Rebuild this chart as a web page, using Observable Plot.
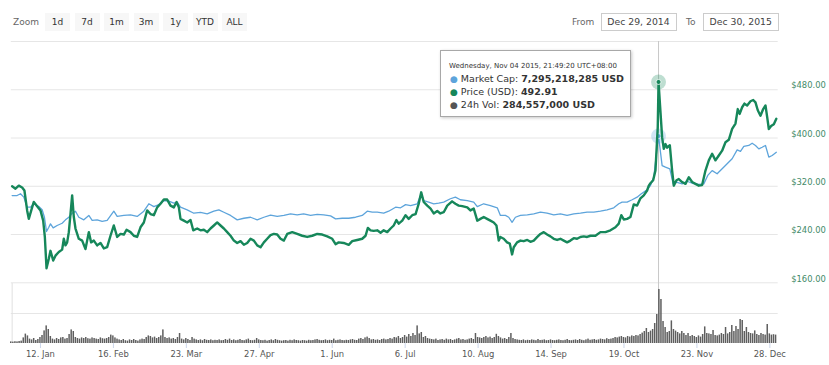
<!DOCTYPE html>
<html><head><meta charset="utf-8">
<script src="https://cdn.jsdelivr.net/npm/d3@7"></script>
<script src="https://cdn.jsdelivr.net/npm/@observablehq/plot@0.6"></script>
<style>
html,body{margin:0;padding:0;background:#fff;}
#wrap{position:relative;width:829px;height:365px;overflow:hidden;font-family:"DejaVu Sans",sans-serif;}
.layer{position:absolute;left:0;top:0;}
.layer svg{display:block;overflow:visible;}
.lbl{position:absolute;top:13px;font-size:9px;color:#666;line-height:18px;}
.btn{position:absolute;top:12.5px;width:25px;height:18px;line-height:18px;background:#f7f7f7;color:#333;font-size:9px;text-align:center;}
.box{position:absolute;top:13px;height:18px;line-height:16px;border:1px solid #ccc;box-sizing:border-box;font-size:9.3px;color:#444;text-align:center;background:#fff;}
#tip{position:absolute;left:440px;top:50px;width:191px;height:67px;box-sizing:border-box;border:1px solid #a8a8a8;background:rgba(255,255,255,0.96);box-shadow:1px 1px 3px rgba(0,0,0,0.22);color:#333;}
#tip .hd{position:absolute;left:8px;top:10px;font-size:7px;line-height:10px;white-space:nowrap;}
#tip .row{position:absolute;left:9px;font-size:9.5px;line-height:12px;white-space:nowrap;}
#tip .row span.b{font-size:9px;margin-right:3px;}
</style></head><body>
<div id="wrap"></div>
<script>
const startDate = Date.UTC(2014, 11, 29);
const DAY = 864e5;

// price (USD) : [day offset from Dec 29 2014, value]
const priceUSD = [[0.4,320],[2.0,316],[3.6,321],[5.2,318],[6.3,313],[7.6,280],[8.4,266],[10.0,285],[10.8,294],[12.4,287],[14.0,280],[15.3,263],[16.1,236],[16.9,184],[18.0,200],[18.8,213],[20.1,197],[21.2,205],[22.8,211],[24.4,215],[25.2,233],[26.0,222],[26.8,227],[27.6,244],[28.4,274],[29.2,305],[30.0,269],[30.8,250],[32.4,233],[34.0,230],[35.6,216],[37.2,244],[38.3,227],[39.6,230],[41.2,222],[42.8,226],[44.4,217],[46.0,219],[47.6,238],[49.2,255],[50.8,236],[52.4,241],[54.0,240],[55.3,248],[57.2,244],[58.8,238],[60.4,236],[62.0,252],[63.6,260],[65.2,280],[66.8,274],[68.4,272],[70.0,285],[71.6,291],[73.2,298],[74.8,298],[76.4,288],[78.0,285],[79.3,294],[80.4,285],[81.2,266],[82.8,263],[84.4,260],[86.0,264],[87.3,247],[89.2,250],[90.8,247],[92.4,248],[94.0,244],[95.6,250],[97.2,255],[98.8,260],[100.4,255],[102.0,250],[103.6,244],[105.2,238],[106.8,230],[108.4,226],[110.0,229],[111.6,223],[113.2,226],[114.8,233],[116.4,230],[118.0,222],[119.6,219],[121.2,227],[122.8,233],[124.4,239],[126.0,241],[127.6,240],[129.2,233],[130.8,230],[132.4,241],[134.8,244],[137.2,241],[139.6,238],[142.0,236],[144.4,238],[146.8,241],[149.2,240],[151.6,237],[154.0,233],[155.6,224],[157.1,227],[159.5,226],[161.9,223],[163.6,229],[166.0,231],[168.4,233],[170.0,238],[171.1,251],[172.4,247],[173.9,246],[175.6,247],[177.2,243],[178.7,247],[180.4,244],[182.0,250],[183.5,255],[184.8,264],[185.9,258],[187.6,263],[189.2,272],[190.7,266],[192.4,272],[194.0,274],[195.5,291],[196.7,310],[197.9,294],[199.6,288],[201.2,283],[202.7,275],[204.4,279],[205.9,275],[207.5,277],[209.2,288],[211.5,295],[213.1,291],[214.7,288],[216.4,287],[218.8,285],[220.3,280],[221.9,283],[223.6,263],[225.1,266],[226.7,269],[228.3,266],[229.9,263],[231.5,260],[232.8,255],[233.9,230],[234.7,236],[236.3,233],[237.9,227],[239.2,225],[240.3,207],[241.1,219],[242.7,227],[244.3,230],[245.9,229],[247.6,231],[249.1,228],[250.7,230],[252.4,236],[253.9,241],[255.5,244],[257.1,240],[258.7,237],[260.3,233],[261.9,231],[263.5,233],[265.1,230],[266.7,227],[268.3,230],[269.9,234],[271.5,233],[273.1,236],[274.7,237],[276.3,236],[277.9,238],[280.3,238],[282.7,244],[285.1,244],[287.5,247],[289.9,252],[291.5,258],[292.7,272],[293.9,265],[295.5,266],[297.1,269],[298.7,290],[300.3,288],[301.9,300],[303.5,305],[305.1,313],[305.9,321],[306.7,325],[308.0,330],[309.1,346],[310.2,418],[310.58,492.91],[312.3,401],[313.1,382],[313.9,390],[314.7,384],[316.0,388],[317.1,346],[317.9,321],[319.2,330],[320.3,332],[321.9,327],[323.5,324],[325.1,335],[326.7,327],[328.3,324],[329.9,321],[331.5,322],[333.1,346],[334.7,363],[336.3,374],[337.9,363],[339.5,371],[341.1,379],[342.7,393],[344.3,397],[345.9,415],[347.5,424],[348.6,448],[349.5,440],[350.7,451],[351.8,457],[353.1,454],[354.7,461],[356.0,463],[357.1,459],[358.2,446],[359.5,437],[360.8,448],[361.9,454],[362.7,435],[363.5,415],[364.6,420],[365.9,423],[367.1,432]];

// market cap (billion USD) : [day offset, value]
const marketCapB = [[0.4,4.34],[2.8,4.34],[4.4,4.43],[6.0,4.26],[7.6,3.76],[9.2,3.76],[10.8,3.93],[13.2,3.79],[14.8,3.63],[15.9,3.26],[16.9,2.55],[18.0,2.76],[18.8,2.93],[20.1,2.73],[22.0,2.85],[24.4,2.96],[26.0,3.13],[27.6,3.26],[29.2,3.46],[30.8,3.56],[32.4,3.26],[34.8,3.13],[37.2,3.35],[38.8,3.10],[41.2,3.13],[43.6,3.05],[46.0,3.10],[49.2,3.56],[50.8,3.30],[54.0,3.35],[57.2,3.38],[60.4,3.30],[63.6,3.56],[66.0,3.93],[68.4,3.79],[70.8,3.89],[73.2,4.09],[75.6,4.06],[78.0,3.96],[79.6,4.01],[81.2,3.76],[84.4,3.63],[87.6,3.46],[90.8,3.50],[94.0,3.43],[97.2,3.56],[99.6,3.63],[102.0,3.51],[105.2,3.35],[108.4,3.13],[111.6,3.21],[114.8,3.26],[118.0,3.13],[121.2,3.26],[124.4,3.37],[127.6,3.30],[130.8,3.35],[134.0,3.43],[137.2,3.38],[140.3,3.43],[143.6,3.35],[146.8,3.40],[149.9,3.38],[153.2,3.33],[155.6,3.18],[158.8,3.21],[161.9,3.21],[165.2,3.26],[168.4,3.35],[170.8,3.56],[173.2,3.51],[175.6,3.51],[178.7,3.46],[181.1,3.56],[184.4,3.76],[186.8,3.73],[189.2,3.89],[191.6,3.84],[194.8,3.93],[196.7,4.43],[197.9,4.09],[200.3,4.01],[202.7,3.93],[205.1,3.96],[207.5,4.01],[210.7,4.18],[213.1,4.26],[215.5,4.13],[218.8,4.09],[221.9,4.01],[223.6,3.79],[226.7,3.93],[229.9,3.84],[233.2,3.73],[234.7,3.35],[237.1,3.35],[238.7,3.26],[240.3,3.01],[241.9,3.26],[244.3,3.35],[247.6,3.38],[250.7,3.43],[253.9,3.51],[257.1,3.46],[260.3,3.38],[263.5,3.43],[266.7,3.35],[269.9,3.43],[273.1,3.46],[276.3,3.51],[279.5,3.51],[282.7,3.56],[285.9,3.63],[289.1,3.73],[291.5,3.93],[293.1,4.01],[295.5,4.01],[297.9,4.13],[300.3,4.26],[302.0,4.40],[305.1,4.63],[306.7,4.84],[308.3,5.25],[310.2,6.99],[310.58,7.295],[312.3,5.83],[313.9,5.75],[316.0,5.67],[317.6,4.92],[319.5,5.00],[321.9,4.92],[324.3,5.05],[326.7,4.95],[329.9,4.89],[332.3,4.92],[334.2,5.34],[336.3,5.58],[338.7,5.42],[341.1,5.67],[343.5,5.92],[345.9,6.17],[348.3,6.61],[349.9,6.54],[351.5,6.78],[353.9,6.83],[355.5,6.94],[357.1,6.83],[358.7,6.66],[360.3,6.74],[361.9,6.83],[363.5,6.25],[365.1,6.33],[367.1,6.49]];

// 24h volume (million USD), one value per day from Dec 29 2014
const volumeM = [
 8,7,9,8,10,12,28,47,38,22,
 18,25,15,20,30,40,63,88,70,35,
 22,18,25,20,28,30,22,25,45,68,
 60,30,25,22,28,25,30,24,22,28,
 25,22,20,28,24,22,25,30,42,38,
 28,22,18,15,20,14,12,18,15,20,
 15,12,18,22,20,30,38,35,28,32,
 25,30,38,68,30,25,28,22,25,20,
 30,50,22,18,25,20,15,30,22,18,
 15,18,14,20,16,15,18,14,16,15,
 18,14,15,20,16,22,15,18,14,16,
 20,15,14,18,22,15,14,16,25,18,
 15,14,16,12,15,18,14,20,16,14,
 12,14,15,12,16,14,18,15,14,12,
 15,14,12,16,14,15,18,20,16,14,
 15,18,14,16,15,22,14,16,18,15,
 14,16,15,18,20,16,15,22,25,20,
 28,32,25,18,20,16,18,15,20,22,
 18,20,25,22,30,28,35,25,30,40,
 32,45,35,50,40,88,48,55,30,35,
 25,22,20,18,22,15,18,20,16,22,
 18,20,15,18,22,25,18,20,16,18,
 22,25,20,50,30,28,25,30,35,28,
 32,25,30,46,35,28,22,25,20,30,
 50,25,20,18,16,15,18,14,16,15,
 18,16,14,20,15,16,18,14,15,18,
 15,14,16,18,15,14,16,20,15,14,
 16,18,15,20,16,14,18,22,16,18,
 20,16,18,22,20,18,24,20,22,25,
 30,28,32,35,30,28,35,32,38,35,
 40,38,45,52,60,75,55,62,70,100,
 145,270,220,110,80,55,60,113,70,62,
 55,48,60,50,40,50,35,40,35,30,
 38,32,45,83,50,48,45,65,40,38,
 42,50,45,80,48,55,90,60,85,70,
 120,115,60,80,55,50,48,63,45,40,
 50,45,42,95,48,42,44,42];

const priceTicks = [160, 240, 320, 400, 480];
const priceGrid = [160, 240, 320, 400, 480, 560];
const volumeGrid = [150];
const volumeTop = 300;
const xTicks = ["2015-01-12","2015-02-16","2015-03-23","2015-04-27","2015-06-01","2015-07-06","2015-08-10","2015-09-14","2015-10-19","2015-11-23","2015-12-28"];
const zoomButtons = ["1d","7d","1m","3m","1y","YTD","ALL"];
const rangeFrom = "Dec 29, 2014";
const rangeTo = "Dec 30, 2015";
const hoverDay = 310.58;
const tip = {
  header: "Wednesday, Nov 04 2015, 21:49:20 UTC+08:00",
  marketCap: "7,295,218,285 USD",
  price: "492.91",
  volume: "284,557,000 USD"
};

const GREEN = "#16875a", BLUE = "#5da4db", VOLC = "#5e5e5e";
const toDate = d => new Date(startDate + d * DAY);
const price = priceUSD.map(([d, v]) => ({date: toDate(d), v}));
const mcap = marketCapB.map(([d, v]) => ({date: toDate(d), v}));
const vol = volumeM.map((v, i) => ({x1: toDate(i - 0.5), x2: toDate(i + 0.5), v}));
const hoverDate = toDate(hoverDay);

const W = 829, H = 365;
const common = {
  width: W, height: H,
  marginLeft: 10.8, marginRight: 51.3, marginTop: 0, marginBottom: 0,
  x: {type: "utc", domain: [toDate(0), toDate(368)], axis: null},
  style: {background: "transparent", fontFamily: "DejaVu Sans, sans-serif", overflow: "visible"}
};

const wrap = document.getElementById("wrap");
function layer(svg) {
  const d = document.createElement("div");
  d.className = "layer";
  d.appendChild(svg);
  wrap.appendChild(d);
}

// Layer A: price grid + right axis
layer(Plot.plot({
  ...common,
  y: {domain: [160, 560], range: [282.3, 41], axis: null},
  marks: [
    Plot.ruleY(priceGrid, {stroke: "#e6e6e6", strokeWidth: 1}),
    Plot.axisY({anchor: "right", ticks: priceTicks, tickSize: 0, tickPadding: 13, dy: -4,
      tickFormat: d => "$" + d.toFixed(2), fill: "#3f8a68", fontSize: 8.4, textAnchor: "start"})
  ]
}));

// Layer B: volume pane, crosshair, x axis
layer(Plot.plot({
  ...common,
  marginTop: 41, marginBottom: 22,
  y: {domain: [0, volumeTop], range: [343, 283], axis: null},
  marks: [
    Plot.ruleY(volumeGrid, {stroke: "#e6e6e6"}),
    Plot.ruleX([toDate(0.4)], {y1: 0, y2: volumeTop, stroke: "#e0e0e0"}),
    Plot.ruleX([hoverDate], {stroke: "#c8c8c8", strokeWidth: 1}),
    Plot.rectY(vol, {x1: "x1", x2: "x2", y: "v", fill: VOLC, insetLeft: 0.25, insetRight: 0.35}),
    Plot.axisX({ticks: xTicks.map(s => new Date(s + "T00:00:00Z")), anchor: "bottom",
      tickSize: 5, tickPadding: 3, stroke: "#ccd6eb", fill: "#555", fontSize: 8.4,
      tickFormat: d3.utcFormat("%-d. %b")})
  ]
}));

// Layer C: market cap line
layer(Plot.plot({
  ...common,
  y: {domain: [0, 12], range: [282.3, 41], axis: null},
  marks: [
    Plot.line(mcap, {x: "date", y: "v", stroke: BLUE, strokeWidth: 1.3}),
    Plot.dot(mcap.filter(d => +d.date === +hoverDate), {x: "date", y: "v", r: 7.5, fill: BLUE, fillOpacity: 0.28}),
    Plot.dot(mcap.filter(d => +d.date === +hoverDate), {x: "date", y: "v", r: 2.5, fill: BLUE, stroke: "#fff", strokeWidth: 0.8})
  ]
}));

// Layer D: price line
layer(Plot.plot({
  ...common,
  y: {domain: [160, 560], range: [282.3, 41], axis: null},
  marks: [
    Plot.line(price, {x: "date", y: "v", stroke: GREEN, strokeWidth: 2.4, strokeLinejoin: "round"}),
    Plot.dot(price.filter(d => +d.date === +hoverDate), {x: "date", y: "v", r: 7.5, fill: GREEN, fillOpacity: 0.28}),
    Plot.dot(price.filter(d => +d.date === +hoverDate), {x: "date", y: "v", r: 2.5, fill: GREEN, stroke: "#fff", strokeWidth: 0.8})
  ]
}));

// Range selector (HTML)
const z = document.createElement("div");
z.className = "lbl"; z.style.left = "13px"; z.textContent = "Zoom";
wrap.appendChild(z);
zoomButtons.forEach((b, i) => {
  const e = document.createElement("div");
  e.className = "btn"; e.style.left = (45 + i * 29.5) + "px"; e.textContent = b;
  wrap.appendChild(e);
});
const f = document.createElement("div");
f.className = "lbl"; f.style.left = "572px"; f.textContent = "From"; wrap.appendChild(f);
const b1 = document.createElement("div");
b1.className = "box"; b1.style.left = "600.5px"; b1.style.width = "76px"; b1.textContent = rangeFrom; wrap.appendChild(b1);
const t = document.createElement("div");
t.className = "lbl"; t.style.left = "686px"; t.textContent = "To"; wrap.appendChild(t);
const b2 = document.createElement("div");
b2.className = "box"; b2.style.left = "703px"; b2.style.width = "75.5px"; b2.textContent = rangeTo; wrap.appendChild(b2);

// Tooltip
const tipDiv = document.createElement("div");
tipDiv.id = "tip";
tipDiv.innerHTML =
  `<div class="hd"></div>` +
  `<div class="row" style="top:22px"><span class="b" style="color:${BLUE}">●</span>Market Cap: <b></b></div>` +
  `<div class="row" style="top:35px"><span class="b" style="color:${GREEN}">●</span>Price (USD): <b></b></div>` +
  `<div class="row" style="top:47.5px"><span class="b" style="color:#555">●</span>24h Vol: <b></b></div>`;
tipDiv.querySelector(".hd").textContent = tip.header;
const bs = tipDiv.querySelectorAll("b");
bs[0].textContent = tip.marketCap; bs[1].textContent = tip.price; bs[2].textContent = tip.volume;
wrap.appendChild(tipDiv);
</script>
</body></html>
